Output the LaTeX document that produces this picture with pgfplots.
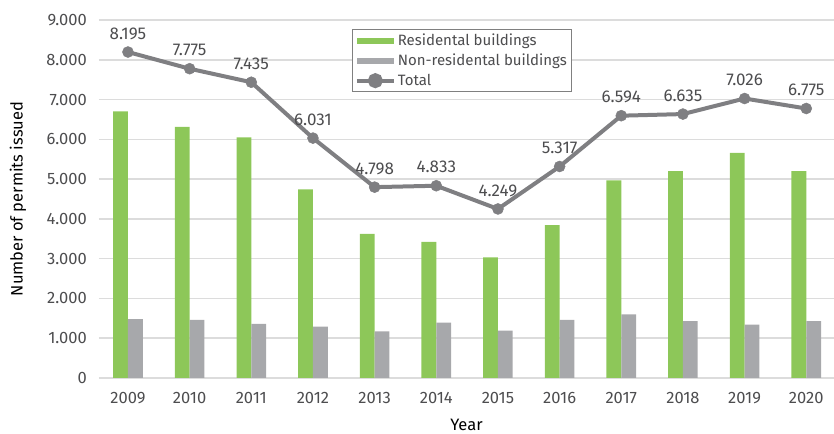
\documentclass[border=0pt]{standalone}
\usepackage{fontspec}
\setmainfont{Fira Sans}
\usepackage{pgfplots}
\pgfplotsset{compat=1.18}
\definecolor{resgreen}{HTML}{8DC759}
\definecolor{nongray}{HTML}{A7A8AB}
\definecolor{totgray}{HTML}{7F7F82}
\definecolor{txt}{HTML}{4D4D4F}
\definecolor{gridc}{HTML}{DCDCDC}
\begin{document}
\begin{tikzpicture}
\begin{axis}[
  scale only axis, width=735bp, height=358bp,
  xmin=-0.47, xmax=11.45, ymin=0, ymax=9000,
  xtick={0,...,11},
  xticklabels={2009,2010,2011,2012,2013,2014,2015,2016,2017,2018,2019,2020},
  ytick={0,1000,...,9000},
  /pgf/number format/1000 sep={.},
  /pgf/number format/assume math mode=true,
  axis line style={draw=none}, tick style={draw=none},
  ymajorgrids, grid style={gridc, line width=1.5bp},
  font=\fontsize{16.5bp}{18bp}\selectfont,
  ticklabel style={text=txt},
  yticklabel style={anchor=east, inner sep=0pt, xshift=-12bp},
  xticklabel style={anchor=center, inner sep=0pt, yshift=-20bp},
  ylabel={Number of permits issued}, xlabel={Year},
  label style={text=txt, font=\fontsize{18bp}{20bp}\selectfont},
  every axis y label/.style={at={(axis description cs:0,0.5)}, rotate=90, anchor=center, yshift=81bp},
  every axis x label/.style={at={(axis description cs:0.5,0)}, anchor=center, yshift=-47bp},
  legend style={at={(0.344,0.975)}, anchor=north west, draw=gray, line width=1bp,
    font=\fontsize{15bp}{17bp}\selectfont, text=txt, inner sep=2.5bp, row sep=3bp},
  legend cell align=left,
]
\addplot[ybar, bar width=0.24, bar shift=-0.12, fill=resgreen, draw=none,
  legend image code/.code={\fill[resgreen] (0bp,-3bp) rectangle (37bp,3bp);}]
  coordinates {(0,6700) (1,6310) (2,6050) (3,4740) (4,3620) (5,3420) (6,3030) (7,3840) (8,4970) (9,5200) (10,5660) (11,5200)};
\addlegendentry{Residental buildings}
\addplot[ybar, bar width=0.24, bar shift=0.12, fill=nongray, draw=none,
  legend image code/.code={\fill[nongray] (0bp,-3bp) rectangle (37bp,3bp);}]
  coordinates {(0,1480) (1,1460) (2,1360) (3,1290) (4,1170) (5,1390) (6,1190) (7,1460) (8,1600) (9,1430) (10,1340) (11,1430)};
\addlegendentry{Non-residental buildings}
\addplot[totgray, line width=4bp, mark=*, mark size=5.5bp, mark options={line width=0.5bp},
  nodes near coords, point meta=y,
  every node near coord/.append style={text=txt, font=\fontsize{17bp}{19bp}\selectfont, yshift=9bp},
  legend image code/.code={\draw[totgray, line width=4bp] (0bp,0bp) -- (37bp,0bp); \fill[totgray] (18.5bp,0bp) circle (5.5bp);}]
  coordinates {(0,8195) (1,7775) (2,7435) (3,6031) (4,4798) (5,4833) (6,4249) (7,5317) (8,6594) (9,6635) (10,7026) (11,6775)};
\addlegendentry{Total}
\end{axis}
\pgfresetboundingbox
\path ([xshift=-99bp,yshift=-56bp]current axis.south west) rectangle ([yshift=20bp]current axis.north east);
\end{tikzpicture}
\end{document}
